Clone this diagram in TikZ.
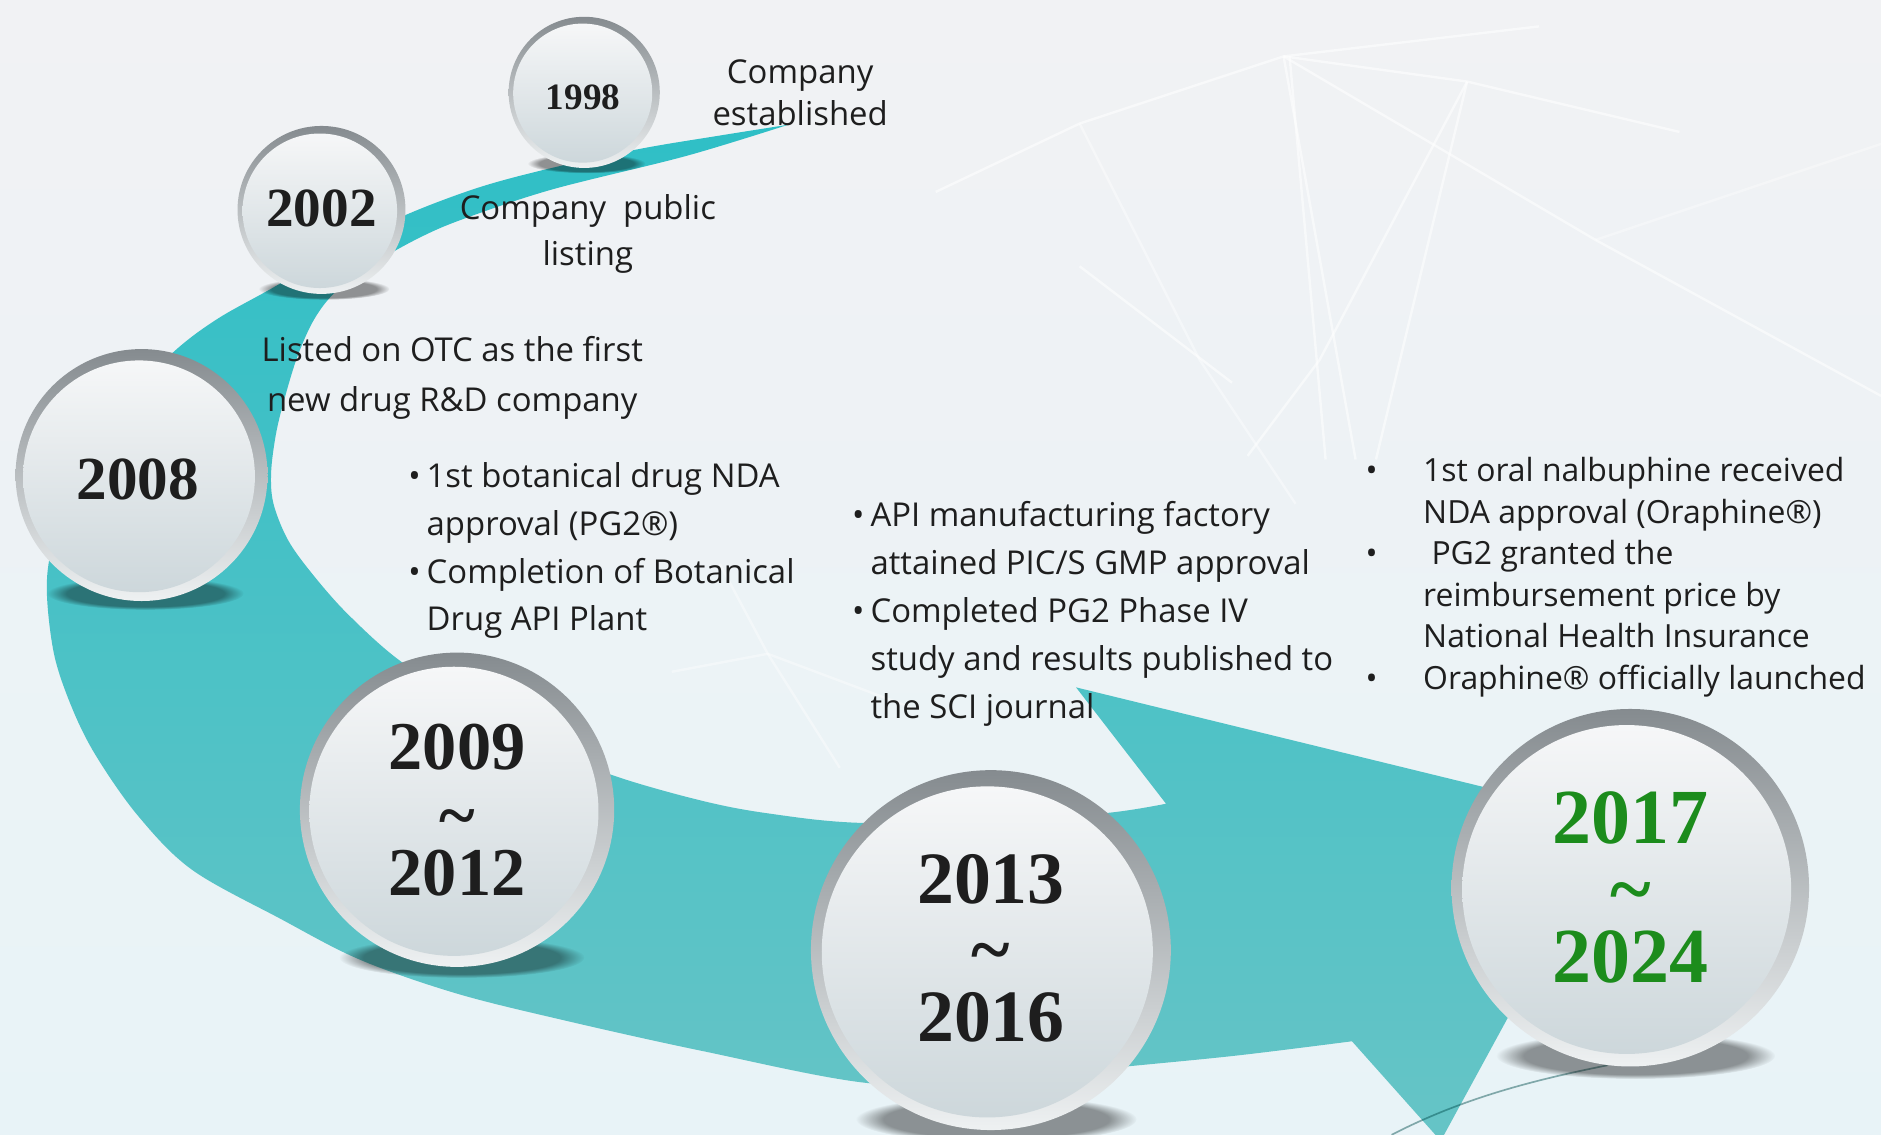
\documentclass[tikz,border=0pt]{standalone}
\usepackage{fontspec}
\setmainfont{Open Sans}
\newfontfamily\yearfont{Liberation Serif}
\usetikzlibrary{fadings}
\definecolor{bgtop}{HTML}{F1F2F4}
\definecolor{bgbot}{HTML}{E8F3F7}
\definecolor{tealA}{HTML}{2FBFC6}
\definecolor{tealB}{HTML}{66C4C6}
\definecolor{rimtop}{HTML}{858B8F}
\definecolor{rimmid}{HTML}{C8CDD0}
\definecolor{rimbot}{HTML}{EEF1F2}
\definecolor{intop}{HTML}{F6F7F8}
\definecolor{inbot}{HTML}{CDD7DB}
\definecolor{yeargreen}{HTML}{1C8C1C}
\definecolor{txt}{HTML}{1E1E1E}
\tikzset{
  desc/.style={inner sep=0pt, text=txt, font=\fontsize{13.7}{20}\selectfont},
  yr/.style={inner sep=0pt, text=txt},
  net/.style={white, line width=1, opacity=0.55},
}
\newcommand\glassball[3]{%
  \fill[black, opacity=0.4, path fading=circle with fuzzy edge 20 percent]
    ({#1+0.03*#3},{#2+0.94*#3}) ellipse [x radius={0.78*#3}, y radius={0.13*#3}];
  \shade[top color=rimtop, middle color=rimmid, bottom color=rimbot]
    (#1,#2) circle [radius=#3];
  \shade[top color=intop, bottom color=inbot]
    ({#1-0.02*#3},{#2+0.01*#3}) circle [radius={0.92*#3}];
}
\begin{document}
\begin{tikzpicture}[x=0.5pt,y=-0.5pt]
\useasboundingbox (0,0) rectangle (1568,946);
\shade[top color=bgtop, bottom color=bgbot] (0,0) rectangle (1568,946);
% network lines
\draw[net] (780,160) -- (900,103) -- (1070,47) -- (1223,68) -- (1400,110);
\draw[net] (1070,47) -- (1283,22);
\draw[net] (1070,47) -- (1130,383);
\draw[net] (1075,47) -- (1105,383);
\draw[net] (1070,47) -- (1330,200) -- (1568,330);
\draw[net] (1223,68) -- (1147,383);
\draw[net] (1223,68) -- (1100,300) -- (1040,380);
\draw[net] (900,222) -- (1027,319);
\draw[net, opacity=0.4] (900,103) -- (1000,300) -- (1080,420);
\draw[net, opacity=0.4] (560,560) -- (640,545) -- (760,590);
\draw[net, opacity=0.4] (600,470) -- (640,545) -- (700,640);
\draw[net, opacity=0.35] (1330,200) -- (1568,120);
% band with arrow head
\shade[top color=tealA, bottom color=tealB]
  plot[smooth, tension=0.55] coordinates {(657,104) (600,113) (534,124) (460,140)
    (400,156) (341,178) (290,203) (229,239) (181,266) (144,294) (100,340)
    (65,400) (45,450) (39,490) (45,545) (60,590) (80,630) (115,680) (160,725)
    (234,766) (300,800) (380,828) (468,850) (585,876) (725,903) (830,900)
    (929,890) (1030,880) (1127,868)}
  -- (1201,951) -- (1347,683) -- (897,573)
  -- plot[smooth, tension=0.55] coordinates {(972,670) (929,677) (850,684)
    (719,686) (640,678) (583,667) (510,646) (450,620) (400,592) (335,552)
    (290,512) (260,478) (240,450) (228,420) (226,394) (230,362) (237,333)
    (248,297) (262,266) (280,243) (311,220) (348,199) (385,183) (460,158)
    (572,130) (657,104)} -- cycle;
\draw[teal!60!black, line width=0.7, opacity=0.45] (1160,946) .. controls (1220,915) and (1280,900) .. (1340,888);
% glass balls
\glassball{487}{77}{63}
\glassball{268}{175}{70}
\glassball{118}{396}{105}
\glassball{381}{675}{131}
\glassball{826}{792}{150}
\glassball{1359}{740}{149}
% years
\node[yr, font=\yearfont\bfseries\fontsize{15.5}{18}\selectfont] (y1998) at (486,81) {1998};
\node[yr, font=\yearfont\bfseries\fontsize{23}{26}\selectfont] (y2002) at (268,174) {2002};
\node[yr, font=\yearfont\bfseries\fontsize{25.5}{28}\selectfont] (y2008) at (115,400) {2008};
\tikzset{y9/.style={yr, font=\yearfont\bfseries\fontsize{28.5}{30}\selectfont}}
\node[y9] (y2009a) at (381,623) {2009};
\node[y9, anchor=base] (y2009t) at (381,699) {\textasciitilde};
\node[y9] (y2009b) at (381,728) {2012};
\tikzset{y13/.style={yr, font=\yearfont\bfseries\fontsize{30.75}{32}\selectfont}}
\node[y13] (y2013a) at (826,733) {2013};
\node[y13, anchor=base] (y2013t) at (826,812) {\textasciitilde};
\node[y13] (y2013b) at (826,848) {2016};
\tikzset{y17/.style={yr, text=yeargreen, font=\yearfont\bfseries\fontsize{32.5}{34}\selectfont}}
\node[y17] (y2017a) at (1359,682) {2017};
\node[y17, anchor=base] (y2017t) at (1359,763) {\textasciitilde};
\node[y17] (y2017b) at (1359,798) {2024};
% descriptions
\node[desc, align=center, font=\fontsize{13.7}{17.5}\selectfont] (t1998) at (667,77) {Company\\established};
\node[desc, align=center, font=\fontsize{13.7}{19.5}\selectfont] (t2002) at (490,195) {Company\ \ public\\listing};
\node[desc, align=center, font=\fontsize{13.7}{20.5}\selectfont] (t2008) at (377,315) {Listed on OTC as the first\\new drug R\&D company};
\node[desc, anchor=west] (t2009) at (340,458) {\begin{tabular}{@{}l@{\hspace{2.5pt}}l@{}}
  •&1st botanical drug NDA\\
   &approval (PG2®)\\
  •&Completion of Botanical\\
   &Drug API Plant\end{tabular}};
\node[desc, anchor=west] (t2013) at (710,511) {\begin{tabular}{@{}l@{\hspace{2.5pt}}l@{}}
  •&API manufacturing factory\\
   &attained PIC/S GMP approval\\
  •&Completed PG2 Phase IV\\
   &study and results published to\\
   &the SCI journal\end{tabular}};
\node[desc, anchor=west, font=\fontsize{13.3}{17.3}\selectfont] (t2017) at (1138,481) {\begin{tabular}{@{}l@{\hspace{19pt}}l@{}}
  •&1st oral nalbuphine received\\
   &NDA approval (Oraphine®)\\
  •&\ PG2 granted the\\
   &reimbursement price by\\
   &National Health Insurance\\
  •&Oraphine® officially launched\end{tabular}};
\end{tikzpicture}
\end{document}
